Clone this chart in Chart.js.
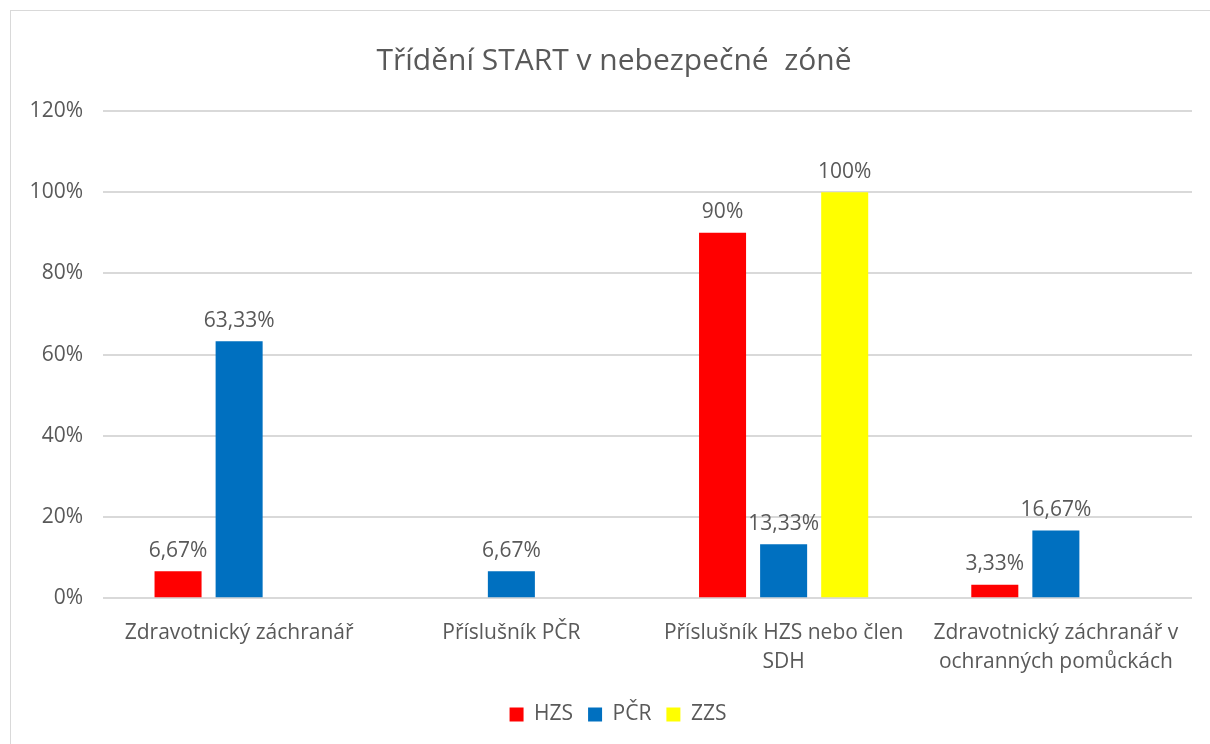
<!DOCTYPE html>
<html>
<head>
<meta charset="utf-8">
<script src="https://cdn.jsdelivr.net/npm/chart.js@4"></script>
<style>
  body { margin: 0; background: #fff; }
  #frame { position: absolute; left: 10px; top: 10px; width: 1230px; height: 760px; border: 1px solid #d9d9d9; }
  #wrap { position: absolute; left: 0; top: 0; width: 1210px; height: 744px; }
</style>
</head>
<body>
<div id="frame"></div>
<div id="wrap"><canvas id="chart" width="1210" height="744"></canvas></div>
<script>
const categories = [
    'Zdravotnický záchranář',
    'Příslušník PČR',
    ['Příslušník HZS nebo člen', 'SDH'],
    ['Zdravotnický záchranář v', 'ochranných pomůckách']
];
const hzs = [6.67, 0, 90, 3.33];
const pcr = [63.33, 6.67, 13.33, 16.67];
const zzs = [0, 0, 100, 0];
const yTicks = [0, 20, 40, 60, 80, 100, 120];

const FONT = "'Open Sans', 'Liberation Sans', sans-serif";
const GREY = '#595959';

function fmt(v) {
    return String(v).replace('.', ',') + '%';
}

// value labels above every non-zero bar
const valueLabels = {
    id: 'valueLabels',
    afterDatasetsDraw(chart) {
        const ctx = chart.ctx;
        ctx.save();
        ctx.font = '21px ' + FONT;
        ctx.fillStyle = GREY;
        ctx.textAlign = 'center';
        ctx.textBaseline = 'bottom';
        chart.data.datasets.forEach((ds, i) => {
            chart.getDatasetMeta(i).data.forEach((bar, j) => {
                const v = ds.data[j];
                if (!v) return;
                ctx.fillText(fmt(v), bar.x, bar.y - 10);
            });
        });
        ctx.restore();
    }
};

// title and legend are centred on the outer frame, not on the canvas
const centreOnFrame = {
    id: 'centreOnFrame',
    afterLayout(chart) {
        if (chart.titleBlock) chart.titleBlock.left += 16;
        if (chart.legend) chart.legend.left += 24;
    }
};

new Chart(document.getElementById('chart').getContext('2d'), {
    type: 'bar',
    data: {
        labels: categories,
        datasets: [
            { label: 'HZS', data: hzs, backgroundColor: '#ff0000' },
            { label: 'PČR', data: pcr, backgroundColor: '#0070c0' },
            { label: 'ZZS', data: zzs, backgroundColor: '#ffff00' }
        ]
    },
    options: {
        responsive: false,
        animation: false,
        categoryPercentage: 0.673,
        barPercentage: 0.77,
        layout: { padding: { top: 20, left: 20, right: 18, bottom: 9 } },
        plugins: {
            title: {
                display: true,
                text: 'Třídění START v nebezpečné  zóně',
                color: GREY,
                font: { family: FONT, size: 30, weight: 'normal' },
                padding: { top: 23, bottom: 32 }
            },
            legend: {
                position: 'bottom',
                labels: {
                    color: GREY,
                    font: { family: FONT, size: 21 },
                    boxWidth: 14,
                    boxHeight: 14,
                    padding: 15
                }
            },
            tooltip: { enabled: false }
        },
        scales: {
            x: {
                grid: { display: false },
                border: { display: false },
                ticks: {
                    color: GREY,
                    font: { family: FONT, size: 21, lineHeight: 1.35 },
                    padding: 13,
                    maxRotation: 0
                }
            },
            y: {
                min: 0,
                max: 120,
                afterBuildTicks(scale) {
                    scale.ticks = yTicks.map(v => ({ value: v }));
                },
                afterFit(scale) { scale.width = 83; },
                grid: { color: '#d9d9d9', lineWidth: 2, drawTicks: false },
                border: { display: false },
                ticks: {
                    color: GREY,
                    font: { family: FONT, size: 21 },
                    padding: 20,
                    callback: v => v + '%'
                }
            }
        }
    },
    plugins: [valueLabels, centreOnFrame]
});
</script>
</body>
</html>
